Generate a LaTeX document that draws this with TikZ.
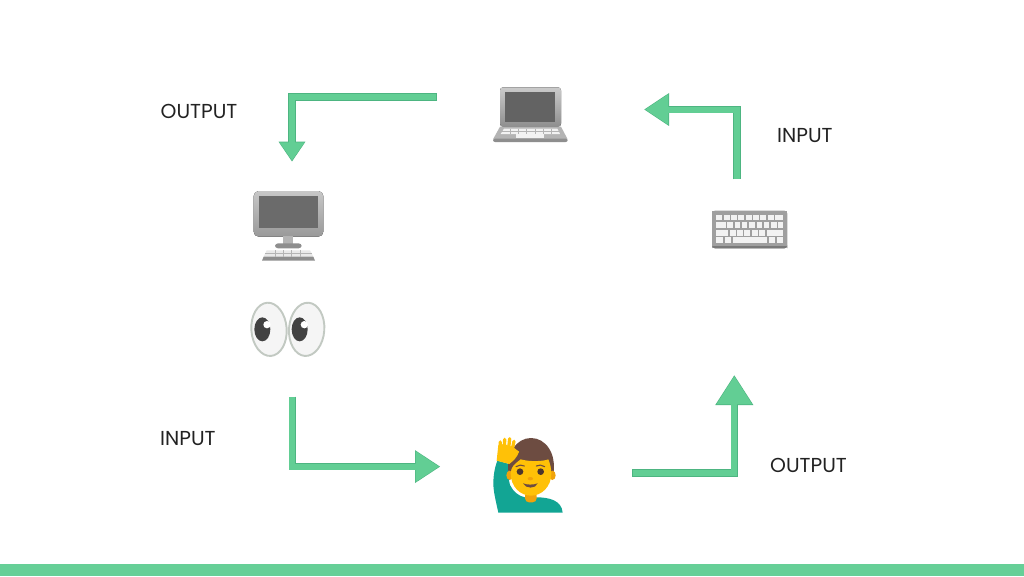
\documentclass[tikz,border=0pt]{standalone}
\usepackage{fontspec}
\setmainfont{Poppins}
\usetikzlibrary{arrows.meta}
\definecolor{flowgreen}{HTML}{62CE94}
\definecolor{flowedge}{HTML}{4DB581}
\definecolor{barg}{HTML}{66CF97}
\definecolor{inkc}{HTML}{222222}
\definecolor{scr}{HTML}{636363}
\definecolor{sil}{HTML}{B4B4B4}
\definecolor{sild}{HTML}{8E8E8E}
\definecolor{keyl}{HTML}{F2F2F2}
\definecolor{skin}{HTML}{FFC107}
\definecolor{skind}{HTML}{F0A30A}
\definecolor{hairc}{HTML}{6D4C41}
\definecolor{teal1}{HTML}{12A594}
\definecolor{eyeb}{HTML}{C2C9C2}
\definecolor{pup}{HTML}{424242}
\tikzset{
  lab/.style={font=\fontsize{20.2pt}{23pt}\selectfont,text=inkc,inner sep=0pt,anchor=west},
  px/.style={x=1pt,y=-1pt},
}
% #1 path, #2 length, #3 width
\newcommand{\flowarrow}[3]{%
  \draw[flowedge,line width=7.2pt,-{Triangle[length=#2pt,width=#3pt]}] #1;
  \draw[flowgreen,line width=6pt,shorten >=1.1pt,shorten <=0.6pt,-{Triangle[length=#2pt-1.8pt,width=#3pt-2pt]}] #1;
}
\begin{document}
\begin{tikzpicture}[px]
\useasboundingbox (0,0) rectangle (1024,576);
\fill[white] (0,0) rectangle (1024,576);
\fill[barg] (0,564) rectangle (1024,576);

% labels
\node[lab] (o1) at (160.5,111) {OUTPUT};
\node[lab] (i1) at (160,438.5) {INPUT};
\node[lab] (i2) at (777,135.5) {INPUT};
\node[lab] (o2) at (770,465) {OUTPUT};

% connector ends
\coordinate (a1s) at (437,97);
\coordinate (a1e) at (292,161.7);
\coordinate (a2s) at (737,179.3);
\coordinate (a2e) at (644,109.5);
\coordinate (a3s) at (292.3,396.7);
\coordinate (a3e) at (440.3,466.6);
\coordinate (a4s) at (632.3,473);
\coordinate (a4e) at (734.3,375);
\flowarrow{(a1s) -| (a1e)}{20}{25.4}
\flowarrow{(a2s) |- (a2e)}{25}{31}
\flowarrow{(a3s) |- (a3e)}{25.3}{31}
\flowarrow{(a4s) -| (a4e)}{30}{36}

% laptop
\begin{scope}[shift={(480,70)},scale=0.33333]
  \fill[top color=sil!70!white,bottom color=sild,rounded corners=3pt] (60,52) rectangle (243,170);
  \fill[scr] (76,65) rectangle (225,157);
  \fill[sil] (60,170) -- (243,170) -- (263,208) -- (39,208) -- cycle;
  \fill[sild,rounded corners=2pt] (39,206) rectangle (263,216);
  \fill[keyl] (72,176) -- (232,176) -- (240,192) -- (62,192) -- cycle;
  \fill[keyl] (108,193) rectangle (192,203);
  \foreach \x in {90,115,140,165,190,215}
    \draw[sil,line width=0.7pt] (\x,176) -- (\x,192);
  \draw[sil,line width=0.7pt] (67,184) -- (236,184);
\end{scope}

% desktop
\begin{scope}[shift={(140,70)},scale=0.33333]
  \fill[top color=sil!75!white,bottom color=sild!90!white,rounded corners=5pt] (341,363) rectangle (550,500);
  \fill[scr!95!white] (357,377) rectangle (534,474);
  \fill[sil] (430,498) rectangle (460,522);
  \fill[sild,rounded corners=3pt] (405,520) rectangle (485,535);
  \fill[keyl!85!sil] (380,541) -- (510,541) -- (520,560) -- (371,560) -- cycle;
  \fill[sild] (371,560) -- (520,560) -- (525,572) -- (366,572) -- cycle;
  \foreach \x in {405,430,455,480}
    \draw[sil,line width=0.6pt] (\x,541) -- (\x,560);
  \draw[sil,line width=0.6pt] (376,550) -- (515,550);
\end{scope}

% eyes
\begin{scope}[shift={(140,70)},scale=0.33333]
  \draw[eyeb,fill=white!96!black,line width=1.9pt,rotate around={4:(387,778)}] (387,778) ellipse [x radius=53,y radius=80];
  \draw[eyeb,fill=white!96!black,line width=1.9pt,rotate around={-4:(500,778)}] (500,778) ellipse [x radius=53,y radius=80];
  \fill[pup] (367,778) ellipse [x radius=24,y radius=36];
  \fill[pup] (479,778) ellipse [x radius=24,y radius=36];
  \fill[white] (381,764) circle [radius=11];
  \fill[white] (493,764) circle [radius=11];
\end{scope}

% keyboard
\begin{scope}[shift={(480,70)},scale=0.33333]
  \fill[sil!45!sild,rounded corners=3pt] (696,422) rectangle (922,535);
  \fill[sild!85!black,rounded corners=3pt] (696,526) rectangle (922,535);
  \fill[sil!45!sild] (696,422) rectangle (922,528);
  \foreach \x in {709,731,753,775,797,819,841,863} \fill[keyl] (\x,434) rectangle +(18,17);
  \fill[keyl] (885,434) rectangle (909,451);
  \fill[keyl] (709,457) rectangle (737,474);
  \foreach \x in {742,764,786,808,830,852,874,893} \fill[keyl] (\x,457) rectangle +(16,17);
  \fill[keyl] (709,480) rectangle (744,497);
  \foreach \x in {749,771,793,815,837} \fill[keyl] (\x,480) rectangle +(18,17);
  \fill[keyl] (860,480) rectangle (909,497);
  \fill[keyl] (709,502) rectangle (728,519);
  \fill[keyl] (734,502) rectangle (752,519);
  \fill[keyl] (758,502) rectangle (861,519);
  \fill[keyl] (867,502) rectangle (885,519);
  \fill[keyl] (891,502) rectangle (909,519);
\end{scope}

% man raising hand
\begin{scope}[shift={(280,370)},scale=0.33333]
  % body
  \fill[teal1] (655,428) .. controls (648,395) and (640,365) .. (640,340)
     .. controls (640,315) and (645,290) .. (652,272) -- (688,282)
     .. controls (685,305) and (684,325) .. (690,345)
     .. controls (700,365) and (715,378) .. (735,382) -- (770,382)
     .. controls (805,382) and (845,390) .. (848,428) -- cycle;
  % neck
  \fill[skind,rounded corners=4pt] (735,365) rectangle (770,397);
  % hair back
  \fill[hairc] (686,312) .. controls (676,250) and (710,204) .. (753,204)
     .. controls (797,204) and (830,250) .. (820,312) -- cycle;
  % ears
  \fill[skind] (689,316) ellipse [x radius=10,y radius=14];
  \fill[skind] (817,316) ellipse [x radius=10,y radius=14];
  % face
  \fill[skin] (692,310) .. controls (694,290) and (700,285) .. (722,268)
     .. controls (750,276) and (790,274) .. (805,268)
     .. controls (810,280) and (814,295) .. (814,310)
     .. controls (814,350) and (785,377) .. (753,377)
     .. controls (721,377) and (692,350) .. (692,310) -- cycle;
  % eyes, brows, nose, mouth
  \fill[hairc!70!black] (720,305) circle [radius=10];
  \fill[hairc!70!black] (782,305) circle [radius=10];
  \draw[hairc,line width=1.1pt,line cap=round] (708,290) .. controls (716,284) and (726,284) .. (733,288);
  \draw[hairc,line width=1.1pt,line cap=round] (769,288) .. controls (776,284) and (786,284) .. (794,290);
  \fill[skind] (751,326) ellipse [x radius=8,y radius=5];
  \fill[hairc] (729,340) .. controls (742,345) and (760,345) .. (773,340)
     .. controls (768,357) and (736,357) .. (729,340) -- cycle;
  % hand
  \fill[skin] (650,272) -- (655,225) -- (672,222) -- (700,232) -- (717,245)
     .. controls (712,262) and (700,272) .. (688,282) -- cycle;
  \foreach \xa/\ya/\xb/\yb in {660/250/661/216, 673/245/674/208, 685/245/689/206, 694/250/702/214}
    \draw[skin,line width=3.3pt,line cap=round] (\xa,\ya) -- (\xb,\yb);
  \draw[skin,line width=3.2pt,line cap=round] (695,255) -- (712,246);
\end{scope}
\end{tikzpicture}
\end{document}
